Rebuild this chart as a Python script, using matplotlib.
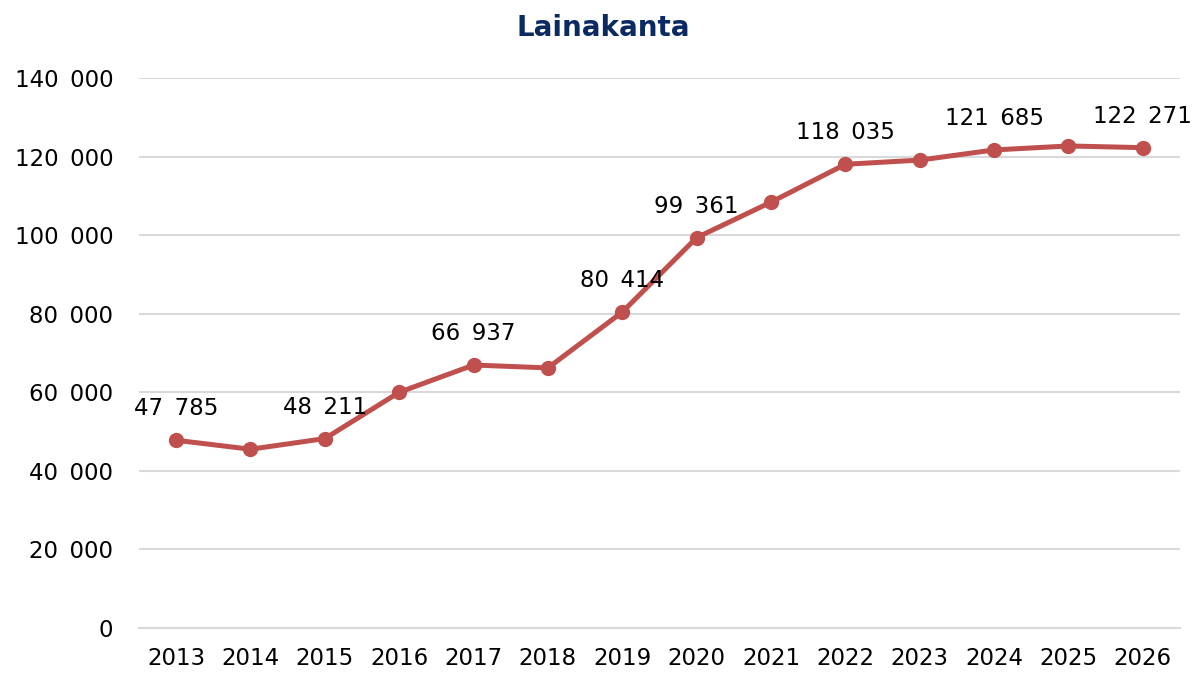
import matplotlib.pyplot as plt
from matplotlib.ticker import FuncFormatter

YEARS = [str(y) for y in range(2013, 2027)]
LOANS = [47785, 45500, 48211, 60000, 66937, 66200, 80414, 99361,
         108400, 118035, 119100, 121685, 122700, 122271]
# only these points carry a value label in the original
LABELLED = ["2013", "2015", "2017", "2019", "2020", "2022", "2024", "2026"]

LINE_COLOR = "#c0504d"
TITLE_COLOR = "#0b2a62"
FONT = "DejaVu Sans"


def fmt_thousands(v, _pos=None):
    # en space: the original leaves a wide gap between digit groups
    return f"{int(round(v)):,}".replace(",", "\u2002")


fig = plt.figure(figsize=(12, 6.73), dpi=100)
ax = fig.add_axes([0.1158, 0.0669, 0.8675, 0.8172])

x = list(range(len(YEARS)))
ax.plot(x, LOANS, color=LINE_COLOR, linewidth=3.6, marker="o",
        markersize=10, solid_capstyle="round", zorder=3)

for i, (year, val) in enumerate(zip(YEARS, LOANS)):
    if year in LABELLED:
        ax.annotate(fmt_thousands(val), (i, val), xytext=(0, 18),
                    textcoords="offset points", ha="center", va="baseline",
                    fontsize=16.5, fontfamily=FONT, color="black")

ax.set_xlim(-0.5, len(YEARS) - 0.5)
ax.set_ylim(0, 140000)
ax.set_yticks(range(0, 140001, 20000))
ax.yaxis.set_major_formatter(FuncFormatter(fmt_thousands))
ax.set_xticks(x, labels=YEARS)

ax.grid(axis="y", color="#d9d9d9", linewidth=1.5)
ax.set_axisbelow(True)
for side in ("top", "right", "left"):
    ax.spines[side].set_visible(False)
ax.spines["bottom"].set_color("#d9d9d9")
ax.spines["bottom"].set_linewidth(1.5)
ax.tick_params(axis="both", length=0, labelsize=16.5)
ax.tick_params(axis="y", pad=18.5)
ax.tick_params(axis="x", pad=14)
for lab in ax.get_xticklabels() + ax.get_yticklabels():
    lab.set_fontfamily(FONT)

fig.text(0.5025, 0.958, "Lainakanta", ha="center", va="center",
         fontsize=20, fontweight="bold", color=TITLE_COLOR,
         fontfamily=FONT)

fig.savefig("out.png", dpi=100)
